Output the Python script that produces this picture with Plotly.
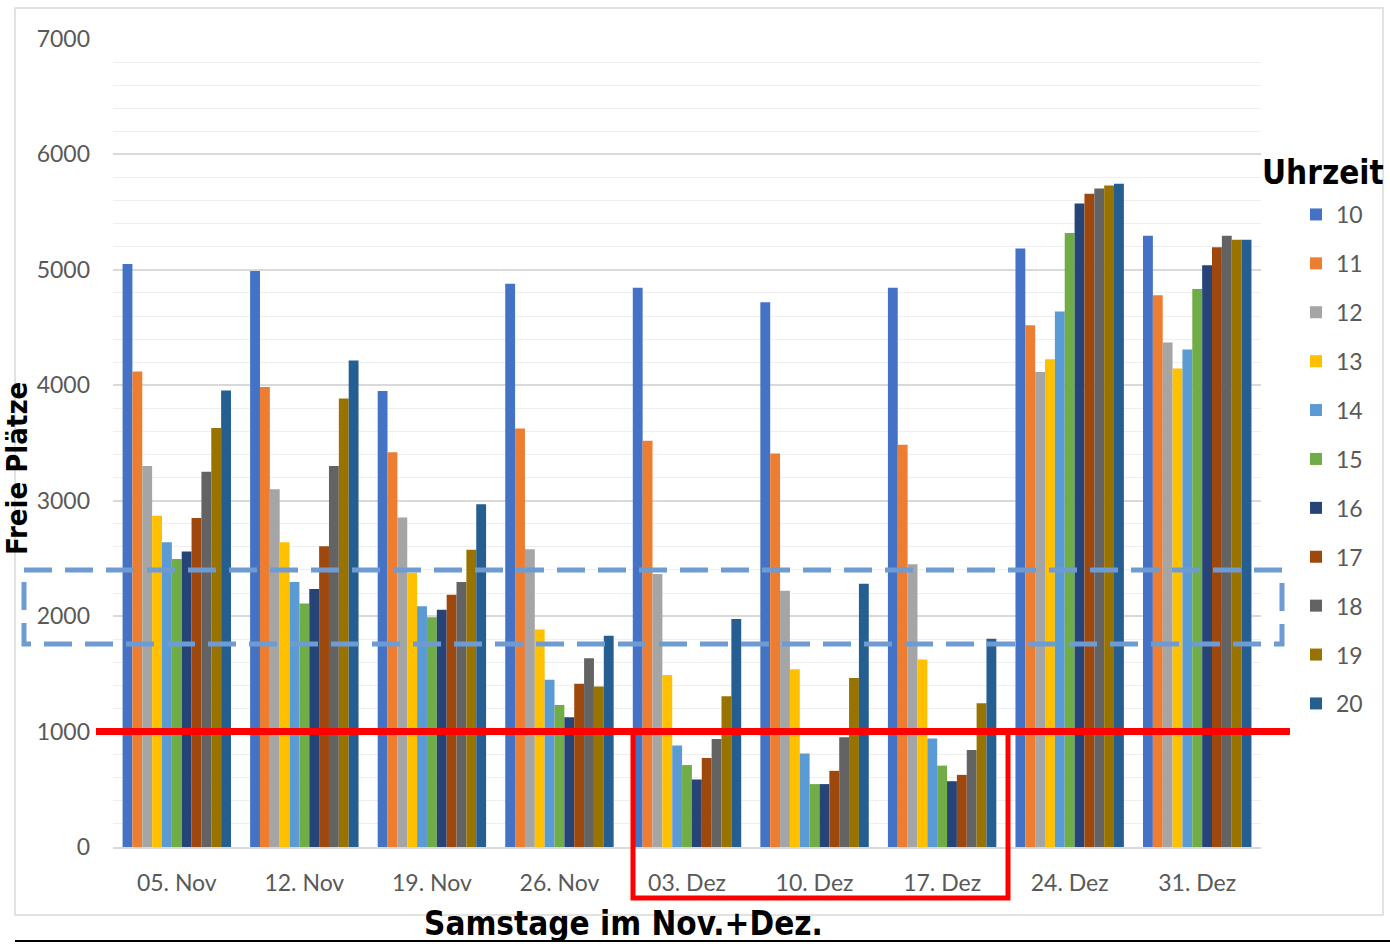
import plotly.graph_objects as go

dates = ["05. Nov", "12. Nov", "19. Nov", "26. Nov", "03. Dez", "10. Dez", "17. Dez", "24. Dez", "31. Dez"]
hours = ["10", "11", "12", "13", "14", "15", "16", "17", "18", "19", "20"]

h10 = [5050, 4990, 3950, 4880, 4845, 4720, 4845, 5185, 5295]
h11 = [4120, 3985, 3420, 3625, 3520, 3410, 3485, 4520, 4780]
h12 = [3300, 3100, 2855, 2580, 2365, 2220, 2450, 4115, 4370]
h13 = [2870, 2640, 2375, 1885, 1490, 1540, 1625, 4225, 4145]
h14 = [2640, 2295, 2085, 1450, 880, 810, 940, 4640, 4310]
h15 = [2495, 2110, 1990, 1230, 710, 545, 705, 5320, 4835]
h16 = [2560, 2235, 2055, 1125, 585, 545, 570, 5575, 5040]
h17 = [2850, 2605, 2185, 1415, 770, 660, 625, 5660, 5195]
h18 = [3250, 3300, 2295, 1635, 935, 950, 840, 5705, 5295]
h19 = [3630, 3885, 2575, 1390, 1305, 1465, 1245, 5730, 5260]
h20 = [3955, 4215, 2970, 1830, 1975, 2280, 1805, 5745, 5260]

series = [h10, h11, h12, h13, h14, h15, h16, h17, h18, h19, h20]
colors = ["#4472C4", "#ED7D31", "#A5A5A5", "#FFC000", "#5B9BD5", "#70AD47",
          "#264478", "#9E480E", "#636363", "#997300", "#255E91"]

W, H = 1390, 946
L, R, T, B = 113, 1261, 39, 847


def px(x):
    return (x - L) / (R - L)


def py(y):
    return (B - y) / (B - T)


fig = go.Figure()
for i, (name, vals) in enumerate(zip(hours, series)):
    fig.add_trace(go.Bar(x=dates, y=vals, name=name, marker_color=colors[i],
                         marker_line_width=0, legendgroup=name))

tick_font = dict(family="Lato, Open Sans, sans-serif", size=23, color="#595959")
bold_family = "Liberation Sans Narrow, DejaVu Sans Condensed, Liberation Sans, sans-serif"
bold_font = dict(family=bold_family, size=33, color="black")

fig.update_layout(
    width=W, height=H,
    margin=dict(l=L, r=W - R, t=T, b=H - B, pad=0),
    paper_bgcolor="white", plot_bgcolor="white",
    barmode="group", bargap=0.15, bargroupgap=0,
    showlegend=True,
    legend=dict(x=px(1296), y=py(193), xanchor="left", yanchor="top",
                font=tick_font, tracegroupgap=16, itemwidth=30,
                bgcolor="rgba(0,0,0,0)"),
    xaxis=dict(showgrid=False, showline=True, linecolor="#d9d9d9", linewidth=1.5,
               tickfont=tick_font, ticks="", ticklabelstandoff=15),
    yaxis=dict(range=[0, 7000], dtick=1000, showgrid=True, gridcolor="#d9d9d9",
               gridwidth=1.5, zeroline=False, tickfont=tick_font, ticks="",
               ticklabelstandoff=22,
               minor=dict(dtick=200, showgrid=True, gridcolor="#efefef", gridwidth=1)),
)

shapes = []
shapes.append(dict(type="rect", xref="paper", yref="paper",
                   x0=px(15), x1=px(1383), y0=py(8), y1=py(915),
                   line=dict(color="#d9d9d9", width=1.5), layer="below"))
shapes.append(dict(type="line", xref="paper", yref="paper",
                   x0=px(15), x1=px(1392), y0=py(941), y1=py(941),
                   line=dict(color="black", width=2)))
shapes.append(dict(type="rect", xref="paper", yref="paper",
                   x0=px(24), x1=px(1282), y0=py(570), y1=py(644),
                   line=dict(color="#6f9bd3", width=5, dash="28px,13px")))
shapes.append(dict(type="rect", xref="paper", yref="paper",
                   x0=px(633), x1=px(1008), y0=py(732), y1=py(898),
                   line=dict(color="#ff0000", width=5)))
shapes.append(dict(type="line", xref="paper", yref="y",
                   x0=px(96), x1=px(1290), y0=1000, y1=1000,
                   line=dict(color="#ff0000", width=7)))
fig.update_layout(shapes=shapes)

fig.add_annotation(text="<b>Samstage im Nov.+Dez.</b>", xref="paper", yref="paper",
                   x=px(623), y=py(923), showarrow=False, font=bold_font,
                   xanchor="center", yanchor="middle")
fig.add_annotation(text="<b>Uhrzeit</b>", xref="paper", yref="paper",
                   x=px(1386), y=py(172), showarrow=False, font=bold_font,
                   xanchor="right", yanchor="middle")
fig.add_annotation(text="<b>Freie Plätze</b>", xref="paper", yref="paper",
                   x=px(17), y=py(468), showarrow=False,
                   font=dict(family=bold_family, size=29, color="black"),
                   textangle=-90, xanchor="center", yanchor="middle")

fig.write_html("out.html", config={"displayModeBar": False},
               post_script="document.body.style.margin='0';")
